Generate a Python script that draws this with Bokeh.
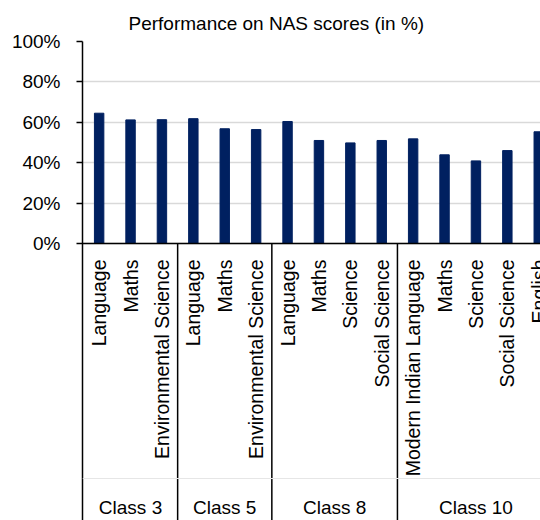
from math import pi
from bokeh.plotting import figure
from bokeh.models import Range1d, FixedTicker, PrintfTickFormatter, Span, Title
from bokeh.core.properties import value
from bokeh.embed import file_html
from bokeh.resources import INLINE

# ---- data ----
subjects = ["Language", "Maths", "Environmental Science",
            "Language", "Maths", "Environmental Science",
            "Language", "Maths", "Science", "Social Science",
            "Modern Indian Language", "Maths", "Science", "Social Science", "English"]
scores = [64.5, 61.2, 61.3,
          61.8, 56.8, 56.4,
          60.4, 51.0, 49.8, 51.0,
          51.8, 43.9, 40.9, 46.0, 55.3]
groups = ["Class 3", "Class 5", "Class 8", "Class 10"]
group_sizes = [3, 3, 4, 5]
y_ticks = [0, 20, 40, 60, 80, 100]
title_text = "Performance on NAS scores (in %)"

FONT = "Liberation Sans"
BAR = "#002060"

# ---- layout constants (pixels) ----
W, H = 540, 520
left, top = 82, 41
frame_w = W - left
frame_h = H - top
px_per_unit_x = 31.4
px_per_pct = 2.02
x0 = -0.03

x_end = x0 + frame_w / px_per_unit_x
y_start = 100 - frame_h / px_per_pct

xs = [i + 0.5 for i in range(len(subjects))]

p = figure(width=W, height=H, output_backend="svg", toolbar_location=None,
           x_range=Range1d(x0, x_end), y_range=Range1d(y_start, 100),
           x_axis_location=None, min_border_left=left, min_border_top=top,
           min_border_right=0, min_border_bottom=0)
p.outline_line_color = None
p.background_fill_color = "white"
p.border_fill_color = "white"

t = Title(text=title_text, align="left", offset=128 - left,
          text_font=FONT, text_font_size="19px", text_font_style="normal",
          text_color="black", standoff=15)
p.add_layout(t, "above")

# y axis
ax = p.yaxis[0]
ax.ticker = FixedTicker(ticks=y_ticks)
ax.formatter = PrintfTickFormatter(format="%d%%")
ax.axis_line_color = "black"
ax.axis_line_width = 1.5
ax.major_tick_line_color = "black"
ax.major_tick_line_width = 1.5
ax.major_tick_out = 6
ax.major_tick_in = 0
ax.minor_tick_line_color = None
ax.major_label_standoff = 16
ax.major_label_text_font = FONT
ax.major_label_text_font_size = "19px"
ax.major_label_text_color = "black"

p.xgrid.visible = False
p.ygrid.grid_line_color = "#D9D9D9"
p.ygrid.grid_line_width = 1.5

# bars
p.vbar(x=xs, top=scores, bottom=0, width=0.3, fill_color=BAR, line_color=BAR)

# zero line
p.add_layout(Span(location=0, dimension="width", line_color="black", line_width=1.5))

# faint line between label levels
p.add_layout(Span(location=-235 / px_per_pct, dimension="width", line_color="#E6E6E6", line_width=1))

# group separators
bounds = []
acc = 0
for n in group_sizes:
    acc += n
    bounds.append(acc)
sep_x = bounds[:-1]
p.segment(x0=sep_x, y0=[0] * len(sep_x), x1=sep_x, y1=[y_start] * len(sep_x),
          line_color="black", line_width=1.5)

# category labels
p.text(x=xs, y=[0] * len(xs), text=subjects, angle=pi / 2,
       text_align="right", text_baseline="middle", y_offset=16,
       text_font=value(FONT), text_font_size="19.5px", text_color="black")

# group labels
starts = [0] + bounds[:-1]
gx = [(s + e) / 2 for s, e in zip(starts, bounds)]
p.text(x=gx, y=[0] * len(gx), text=groups, text_align="center",
       text_baseline="middle", y_offset=264,
       text_font=value(FONT), text_font_size="19px", text_color="black")

open("out.html", "w").write(file_html(p, INLINE))
